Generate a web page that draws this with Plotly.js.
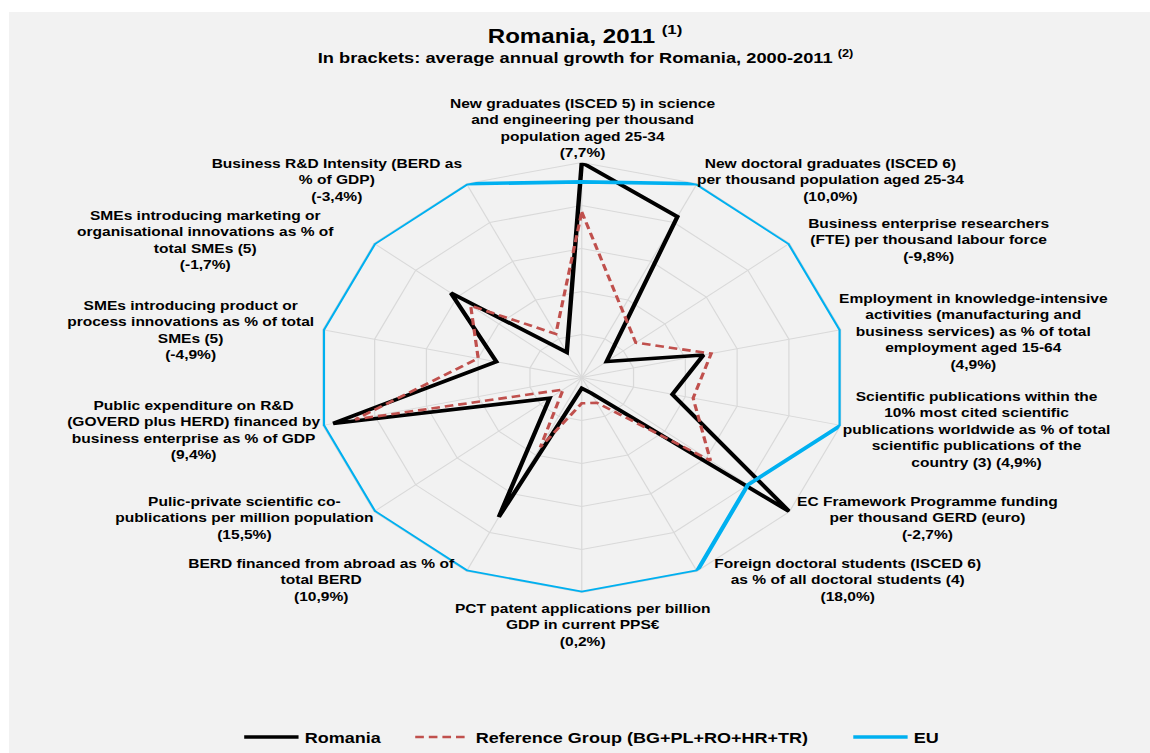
<!DOCTYPE html>
<html>
<head>
<meta charset="utf-8">
<script src="https://cdn.plot.ly/plotly-3.0.1.min.js"></script>
<style>
  html, body { margin: 0; padding: 0; background: #ffffff; width: 1150px; height: 753px; overflow: hidden; }
  #chart { position: absolute; left: 9px; top: 12px; transform-origin: 0 0; }
</style>
</head>
<body>
<div id="chart"></div>
<script>
// ---------- data ----------
const categories = [
  'New graduates S&E', 'New doctoral graduates', 'Business enterprise researchers',
  'Employment KIA', 'Top 10% scientific publications', 'EC Framework Programme funding',
  'Foreign doctoral students', 'PCT patent applications', 'BERD financed from abroad',
  'Public-private co-publications', 'Public expenditure on R&D financed by business',
  'SMEs product/process innovations', 'SMEs marketing/organisational innovations',
  'Business R&D Intensity'
];

const axisLabels = [
  'New graduates (ISCED 5) in science<br>and engineering per thousand<br>population aged 25-34<br>(7,7%)',
  'New doctoral graduates (ISCED 6)<br>per thousand population aged 25-34<br>(10,0%)',
  'Business enterprise researchers<br>(FTE) per thousand labour force<br>(-9,8%)',
  'Employment in knowledge-intensive<br>activities (manufacturing and<br>business services) as % of total<br>employment aged 15-64<br>(4,9%)',
  'Scientific publications within the<br>10% most cited scientific<br>publications worldwide as % of total<br>scientific publications of the<br>country (3) (4,9%)',
  'EC Framework Programme funding<br>per thousand GERD (euro)<br>(-2,7%)',
  'Foreign doctoral students (ISCED 6)<br>as % of all doctoral students (4)<br>(18,0%)',
  'PCT patent applications per billion<br>GDP in current PPS€<br>(0,2%)',
  'BERD financed from abroad as % of<br>total BERD<br>(10,9%)',
  'Pulic-private scientific co-<br>publications per million population<br>(15,5%)',
  'Public expenditure on R&D<br>(GOVERD plus HERD) financed by<br>business enterprise as % of GDP<br>(9,4%)',
  'SMEs introducing product or<br>process innovations as % of total<br>SMEs (5)<br>(-4,9%)',
  'SMEs introducing marketing or<br>organisational innovations as % of<br>total SMEs (5)<br>(-1,7%)',
  'Business R&D Intensity (BERD as<br>% of GDP)<br>(-3,4%)'
];

const romania  = [1.00, 0.83, 0.12, 0.47, 0.35, 1.00, 0.08, 0.05, 0.72, 0.155, 0.96, 0.33, 0.63, 0.13];
const refGroup = [0.77, 0.35, 0.26, 0.50, 0.43, 0.62, 0.13, 0.12, 0.36, 0.09, 0.875, 0.40, 0.535, 0.225];
const eu       = [0.91, 1.00, 1.00, 1.00, 1.00, 0.80, 1.00, 1.00, 1.00, 1.00, 1.00, 1.00, 1.00, 1.00];

const seriesNames = ['Romania', 'Reference Group (BG+PL+RO+HR+TR)', 'EU'];

// ---------- layout helpers ----------
const STRETCH = 1.235;            // horizontal stretch of the original picture
const FULL_W = 1141, FULL_H = 741; // painted area (page px)
const W = FULL_W / STRETCH, H = FULL_H;
const el = document.getElementById('chart');
el.style.width = W + 'px';
el.style.height = H + 'px';
el.style.transform = 'scaleX(' + STRETCH + ')';

// page position -> paper fraction
const px = x => (x - 9) / FULL_W;
const py = y => 1 - (y - 12) / FULL_H;

// label anchor positions (page px) for each axis label
const labelPos = [
  [582, 129], [830, 182], [928, 242], [974, 334], [976, 433], [927, 522], [848, 584],
  [582, 630], [322, 584], [244, 522], [194, 433], [190, 333], [206, 242], [337, 182]
];

const close = a => a.concat([a[0]]);
const theta = close(categories);

const FONT = 'Liberation Sans, Arial, sans-serif';

const traces = [
  {
    type: 'scatterpolar', mode: 'lines', name: seriesNames[0], legend: 'legend',
    r: close(romania), theta: theta,
    line: { color: '#000000', width: 3.6 }, hoverinfo: 'skip'
  },
  {
    type: 'scatterpolar', mode: 'lines', name: seriesNames[1], legend: 'legend2',
    r: close(refGroup), theta: theta,
    line: { color: '#c0504d', width: 2.6, dash: '7px,4px' }, hoverinfo: 'skip'
  },
  {
    type: 'scatterpolar', mode: 'lines', name: seriesNames[2], legend: 'legend3',
    r: close(eu), theta: theta,
    line: { color: '#00b0f0', width: 3.6 }, hoverinfo: 'skip'
  }
];

// polar circle: centre (581.7, 380) page, radius 216.5 (vertical)
const cx = (581.7 - 9) / STRETCH, cy = 380 - 12, R = 216.5;
const domain = {
  x: [(cx - R) / W, (cx + R) / W],
  y: [(H - cy - R) / H, (H - cy + R) / H]
};

const LABEL_SIZE = 12.6;
const annotations = axisLabels.map((t, i) => ({
  text: t, xref: 'paper', yref: 'paper',
  x: px(labelPos[i][0]), y: py(labelPos[i][1]),
  xanchor: 'center', yanchor: 'middle', align: 'center', showarrow: false,
  font: { family: FONT, size: LABEL_SIZE, color: '#000000', weight: 'bold' }
}));

annotations.push({
  text: 'In brackets: average annual growth for Romania, 2000-2011 <sup>(2)</sup>',
  xref: 'paper', yref: 'paper', x: px(586), y: py(57),
  xanchor: 'center', yanchor: 'middle', showarrow: false,
  font: { family: FONT, size: 14.8, color: '#000000', weight: 'bold' }
});

const legendCommon = (xPage) => ({
  orientation: 'h', x: px(xPage), xanchor: 'left', y: py(742), yanchor: 'middle',
  bgcolor: 'rgba(0,0,0,0)', borderwidth: 0, itemwidth: 44,
  font: { family: FONT, size: 14.6, color: '#000000', weight: 'bold' }
});

const layout = {
  width: W, height: H, autosize: false,
  margin: { l: 0, r: 0, t: 0, b: 0, pad: 0 },
  paper_bgcolor: '#f2f2f2',
  plot_bgcolor: '#f2f2f2',
  title: {
    text: 'Romania, 2011 <sup>(1)</sup>',
    font: { family: FONT, size: 19.5, color: '#000000', weight: 'bold' },
    x: px(585), xanchor: 'center', xref: 'paper',
    y: py(36), yanchor: 'middle', yref: 'paper'
  },
  polar: {
    domain: domain,
    bgcolor: 'rgba(0,0,0,0)',
    gridshape: 'linear',
    radialaxis: {
      range: [0, 1], tick0: 0, dtick: 0.2, showticklabels: false, ticks: '',
      showline: false, gridcolor: '#d9d9d9', gridwidth: 1, layer: 'below traces'
    },
    angularaxis: {
      rotation: 90, direction: 'clockwise', showticklabels: false, ticks: '',
      gridcolor: '#d9d9d9', linecolor: '#d9d9d9', showline: true, linewidth: 1,
      layer: 'below traces'
    }
  },
  showlegend: true,
  legend: legendCommon(238),
  legend2: legendCommon(409),
  legend3: legendCommon(847),
  annotations: annotations
};

Plotly.newPlot(el, traces, layout, { displayModeBar: false, staticPlot: true });
</script>
</body>
</html>
